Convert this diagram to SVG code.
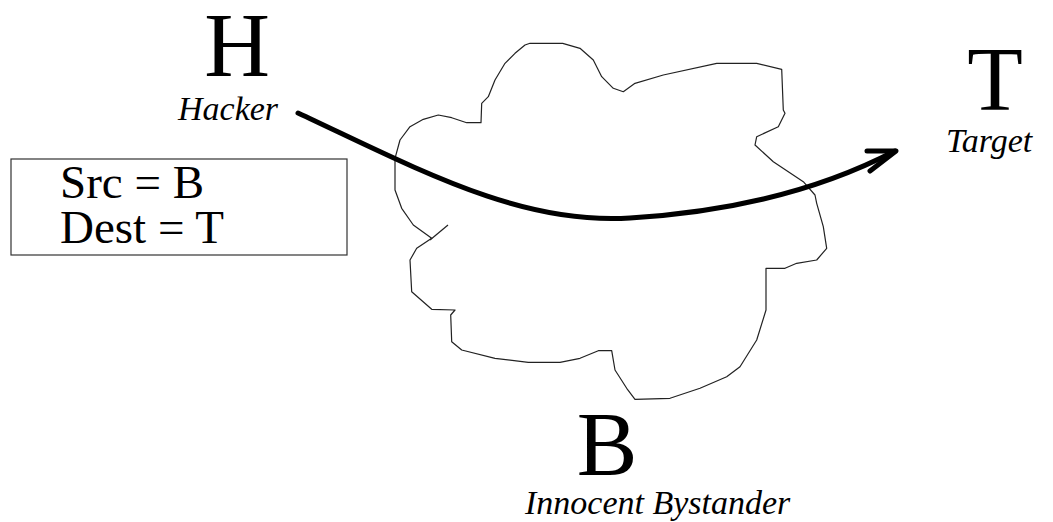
<svg xmlns="http://www.w3.org/2000/svg" width="1053" height="522" viewBox="0 0 1053 522">
<style>
.big{font-family:"Liberation Serif","Times New Roman",serif;font-size:91px;fill:#000;text-anchor:middle}
.lab{font-family:"Liberation Serif","Times New Roman",serif;font-style:italic;font-size:34px;fill:#000}
.box{font-family:"Liberation Serif","Times New Roman",serif;font-size:47px;fill:#000}
.cloud{fill:none;stroke:#222;stroke-width:1.2;stroke-linejoin:round}
.flow{fill:none;stroke:#000;stroke-width:5;stroke-linecap:round;stroke-linejoin:round}
</style>
<rect width="1053" height="522" fill="#fff"/>
<g id="cloud">
<path class="cloud" d="M530,43.3 L562.7,43.3 L580,48.3 L593.3,60 L601.7,76.7 L613.3,88.3 L623.3,91.7 L635,83.3 L663.3,75 L716.7,63.3 L756.7,63.3 L781.7,69.3 L783.3,110 L785,113.3 L778.3,126.7 L756.7,136.7 L755,145 L773.3,161.7 L803.3,181.7 L815,195 L816.7,203.3 L823.3,226.7 L826.7,248.3 L816.7,260 L796.7,263.3 L785,268.3 L766,268.3 L766,310 L756.7,340 L740,366.7 L726.7,376.7 L700,388.3 L670,398.3 L635,399.3 L626.7,388.3 L615,370 L611.7,350.7 L598.3,350.7 L580,358.3 L560,362.3 L528.3,362.3 L495,358.3 L461.7,350 L451.7,341.7 L450.7,315 L455,310 L431.7,309.3 L411.7,291.7 L410,260 L416.7,248.3 L431.7,238.3 L413.3,225 L401.7,208.3 L395,190 L395,158.3 L400,140 L410,126.7 L423.3,119.3 L438.3,115 L451.7,117.7 L466.7,122.7 L481,122.7 L481.7,103.3 L488.3,96.7 L495,80 L505,63.3 L515,53.3 L525,45 Z"/>
<line class="cloud" x1="430" y1="240" x2="448" y2="225"/>
</g>
<g id="hacker">
<text class="big" x="237" y="76">H</text>
<text class="lab" x="178" y="120" font-size="36">Hacker</text>
</g>
<g id="target">
<text class="big" x="995" y="110">T</text>
<text class="lab" x="946" y="152" font-size="37">Target</text>
</g>
<g id="bystander">
<text class="big" x="607" y="475">B</text>
<text class="lab" x="525" y="514">Innocent Bystander</text>
</g>
<g id="packet">
<rect x="11" y="159" width="336" height="96" fill="#fff" stroke="#333" stroke-width="1.2"/>
<text class="box" x="60" y="198">Src = B</text>
<text class="box" x="60" y="243">Dest = T</text>
</g>
<g id="connectors">
<path class="flow" d="M298,113 C420,170 520,225 630,218 C730,212 820,190 895,151"/>
<polyline class="flow" points="867,151 896,151 870,171"/>
</g>
</svg>
